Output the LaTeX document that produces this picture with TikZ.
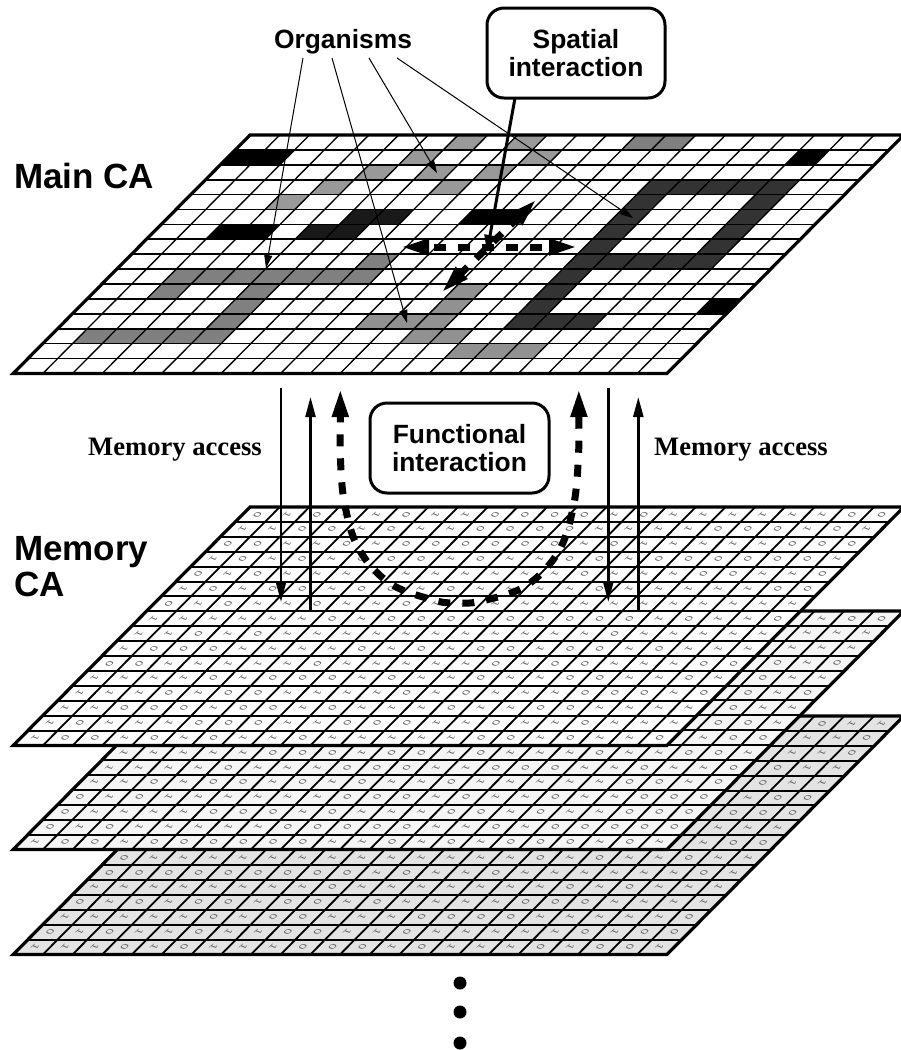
\documentclass[tikz,border=0pt]{standalone}
\usepackage{fontspec}
\setmainfont{Liberation Sans}
\newfontfamily\timesb{Liberation Serif}[BoldFont={Liberation Serif Bold}]
\usetikzlibrary{arrows.meta}
\def\CW{29.72}\def\SH{14.8}\def\RH{14.9}
\tikzset{
  gridh/.style={line width=1.7pt},
  gridd/.style={line width=1.35pt},
  memh/.style={line width=2pt},
  memd/.style={line width=1.8pt},
  border/.style={line width=3.2pt,line join=miter},
  bigtext/.style={font=\fontsize{35}{38}\selectfont\bfseries,anchor=base west,inner sep=0,align=left},
  boxtext/.style={font=\fontsize{26.4}{28.5}\selectfont\bfseries,align=center,draw,line width=3pt,rounded corners=17pt,inner sep=0},
  orgtext/.style={font=\fontsize{26.4}{30}\selectfont\bfseries,inner sep=0},
  memtext/.style={font=\fontsize{26.6}{30}\selectfont\timesb\bfseries,inner sep=0},
  orgarrow/.style={line width=1pt,-{Triangle[length=13pt,width=8pt]}},
  memarrow/.style={line width=2.4pt,-{Triangle[length=20pt,width=10pt]}},
  spatarrow/.style={line width=3pt,-{Triangle[length=17pt,width=11pt]}},
  dasharrow/.style={line width=7pt,dash pattern=on 12pt off 12pt,{Triangle[length=29pt,width=15pt]}-{Triangle[length=29pt,width=15pt]}},
  bit/.style={inner sep=0,text=black!60,font=\fontsize{10}{11}\selectfont,cm={-1.0,-0.85,0.75,-0.3,(0,0)}},
  dot/.style={circle,fill=black,inner sep=0,minimum size=13pt},
}
% layer: x-origin y-origin fill
\newcommand\gridlayer[3]{%
  \fill[#3] (#1,#2) -- ({#1+22*\CW},#2) -- ({#1+22*\CW-16*\SH},{#2+16*\RH}) -- ({#1-16*\SH},{#2+16*\RH}) -- cycle;
  \foreach \k in {1,...,15} \draw[memh] ({#1-\k*\SH},{#2+\k*\RH}) -- ({#1+22*\CW-\k*\SH},{#2+\k*\RH});
  \foreach \k in {1,...,21} \draw[memd] ({#1+\k*\CW},#2) -- ({#1+\k*\CW-16*\SH},{#2+16*\RH});
  \draw[border] (#1,#2) -- ({#1+22*\CW},#2) -- ({#1+22*\CW-16*\SH},{#2+16*\RH}) -- ({#1-16*\SH},{#2+16*\RH}) -- cycle;
}
% bits: y-origin, first row, first column, rows
\newcommand\bits[4]{%
  \foreach \rowlist [count=\jj from #2] in {#4} {
    \foreach \d [count=\ii from #3] in \rowlist {
      \node[bit] at ({250+\CW*(\ii+.5)-\SH*(\jj+.5)},{#1+\RH*(\jj+.5)}) {\d};
    }
  }
}
\newcommand\cells[2]{%
  \foreach \r/\c in {#2} {
    \fill[#1] ({250+\CW*\c-\SH*\r},{135+\RH*\r}) -- ({250+\CW*(\c+1)-\SH*\r},{135+\RH*\r}) -- ({250+\CW*(\c+1)-\SH*(\r+1)},{135+\RH*(\r+1)}) -- ({250+\CW*\c-\SH*(\r+1)},{135+\RH*(\r+1)}) -- cycle;
  }
}
\begin{document}
\begin{tikzpicture}[x=1pt,y=-1pt]
\useasboundingbox (0,0) rectangle (901,1050);
\fill[white] (0,0) rectangle (901,1050);
% memory layers, back to front
\begin{scope}
\gridlayer{250}{716}{black!11}
\bits{716}{0}{19}{{0,1,1},{1,1,0},{1,1,0},{0,1,1},{0,1,1},{1,0,0},{0,0,0},{1,1,1},{1,0,0}}
\bits{716}{9}{0}{
{0,1,1,1,1,1,1,1,1,1,1,1,1,1,0,1,0,1,1,0,1,1},
{0,0,0,0,0,0,0,0,0,1,0,1,1,0,1,1,1,1,1,1,0,1},
{1,1,1,1,1,1,1,1,0,1,1,1,1,1,1,1,0,1,0,1,1,1},
{0,1,0,1,0,0,1,0,0,1,0,1,1,1,1,0,0,0,1,1,1,1},
{1,1,1,1,1,0,1,0,0,1,1,1,0,0,0,0,1,1,1,1,1,0},
{0,1,0,1,1,0,1,1,0,0,1,1,0,1,1,1,1,1,0,1,0,0},
{1,1,1,0,1,0,1,1,1,0,0,0,1,0,1,1,1,0,1,0,0,1}}
\gridlayer{250}{611}{black!4}
\bits{611}{0}{19}{{1,0,0},{1,1,1},{1,1,1},{0,1,0},{0,1,1},{0,1,0},{0,1,1},{0,0,1},{1,0,0}}
\bits{611}{9}{0}{
{1,1,1,1,1,0,0,0,1,0,0,1,0,1,1,1,0,1,1,0,0,1},
{1,1,1,1,0,1,1,1,0,0,0,1,1,0,0,0,1,1,0,1,1,0},
{1,1,0,1,0,0,1,0,1,0,1,1,0,1,1,1,1,1,0,0,1,0},
{0,1,0,1,1,1,1,1,1,0,0,0,1,0,1,1,0,1,1,0,0,0},
{0,1,1,1,1,0,0,0,1,0,1,1,1,0,0,1,0,1,1,0,0,0},
{0,1,0,1,1,1,1,1,0,0,0,0,0,1,1,0,1,0,0,0,0,0},
{1,0,0,1,0,0,0,0,0,0,1,1,0,1,0,1,0,0,0,1,0,1}}
\gridlayer{250}{507}{white}
\bits{507}{0}{0}{
{0,1,0,1,1,0,1,1,0,0,0,0,1,0,1,1,1,1,1,1,0,0},
{1,1,0,0,1,0,1,1,0,0,0,0,1,1,1,1,0,0,0,1,0,1},
{0,0,1,1,0,1,0,0,0,0,0,0,1,0,1,1,1,1,1,0,0,0},
{1,0,1,0,1,0,0,0,1,0,1,1,0,0,1,0,0,0,0,0,0,1},
{0,1,0,1,1,1,1,1,1,1,1,1,1,0,1,1,1,0,0,1,1,0},
{1,0,1,0,0,1,0,0,1,0,1,1,1,1,0,1,1,1,1,1,0,0},
{0,1,0,1,1,0,1,1,0,1,1,1,1,1,1,1,1,1,1,1,1,1},
{1,1,1,1,1,1,0,1,0,0,0,0,0,0,0,0,0,1,0,1,1,0},
{1,1,0,1,0,1,1,1,1,1,1,1,1,1,1,1,0,1,1,1,1,1},
{1,0,0,0,1,1,1,1,0,1,0,1,0,0,1,0,0,1,0,1,1,1},
{0,0,1,1,1,1,1,0,1,1,1,1,1,0,1,0,0,1,1,1,0,0},
{1,1,1,1,0,1,0,0,0,1,0,1,1,0,1,1,0,0,1,1,0,1},
{1,1,1,0,1,0,0,1,1,1,1,0,1,0,1,1,1,0,0,0,1,0},
{1,1,0,0,0,1,0,0,1,0,1,1,1,0,1,1,0,0,1,1,1,1},
{1,0,1,1,1,0,0,0,1,1,0,0,0,1,1,0,1,1,0,1,1,1},
{1,0,0,1,0,1,0,1,1,0,1,1,1,1,1,0,0,1,0,1,1,0}}
\end{scope}
% main CA
\cells{black!40}{0/7,0/9,1/6,1/10,2/5,2/7,2/9,3/4,3/8,4/3}
\cells{black!50}{8/8,9/2,9/3,9/4,9/5,9/6,9/7,9/8,10/2,10/5,11/5,12/5,13/1,13/2,13/3,13/4,13/5,0/13,0/14}
\cells{black!43}{10/12,11/12,12/10,12/11,12/12,13/12,13/13,14/14,14/15,14/16}
\cells{black!80}{3/15,3/16,3/17,3/18,3/19,4/15,4/19,5/15,5/19,6/15,6/19,7/15,7/19,8/15,8/16,8/17,8/18,8/19,9/15,10/15,11/15,12/15,12/16,12/17}
\cells{black!90}{5/6,5/7,6/5,6/6}
\cells{black}{1/0,1/1,6/2,6/3,5/10,5/11,1/19,11/21}
\foreach \k in {1,...,15} \draw[gridh] ({250-\k*\SH},{135+\k*\RH}) -- ({250+22*\CW-\k*\SH},{135+\k*\RH});
\foreach \k in {1,...,21} \draw[gridd] ({250+\k*\CW},135) -- ({250+\k*\CW-16*\SH},{135+16*\RH});
\draw[border] (250,135) -- ({250+22*\CW},135) -- ({250+22*\CW-16*\SH},{135+16*\RH}) -- ({250-16*\SH},{135+16*\RH}) -- cycle;
% labels
\node[bigtext] (mainlab) at (14,188) {Main CA};
\node[bigtext] (memlab) at (14,560) {Memory};
\node[bigtext] (calab) at (14,596) {CA};
\node[orgtext] (org) at (343,42) {Organisms};
\node[boxtext,minimum width=178pt,minimum height=90pt] (spatial) at (576,53) {Spatial\\interaction};
\node[boxtext,minimum width=179pt,minimum height=90pt] (func) at (459.5,448) {Functional\\interaction};
\node[memtext] (mall) at (175,450) {Memory access};
\node[memtext] (malr) at (741,450) {Memory access};
% organism arrows
\coordinate (a1) at (303,58); \coordinate (b1) at (266,268);
\coordinate (a2) at (332,58); \coordinate (b2) at (407,323);
\coordinate (a3) at (369,58); \coordinate (b3) at (437,173);
\coordinate (a4) at (397,58); \coordinate (b4) at (633,218);
\draw[orgarrow] (a1) -- (b1);
\draw[orgarrow] (a2) -- (b2);
\draw[orgarrow] (a3) -- (b3);
\draw[orgarrow] (a4) -- (b4);
% spatial
\coordinate (s0) at (515,98); \coordinate (s1) at (487,252);
\draw[spatarrow] (s0) -- (s1);
\coordinate (h0) at (400,247); \coordinate (h1) at (578,247);
\draw[dasharrow,dash phase=17pt] (h0) -- (h1);
\coordinate (d0) at (441,293); \coordinate (d1) at (537,199);
\draw[dasharrow,dash phase=2pt] (d0) -- (d1);
% memory access arrows
\coordinate (m1a) at (281,388); \coordinate (m1b) at (281,602);
\coordinate (m2a) at (310.5,611); \coordinate (m2b) at (310.5,397);
\coordinate (m3a) at (608.3,388); \coordinate (m3b) at (608.3,602);
\coordinate (m4a) at (638.3,611); \coordinate (m4b) at (638.3,397);
\draw[memarrow] (m1a) -- (m1b);
\draw[memarrow] (m2a) -- (m2b);
\draw[memarrow] (m3a) -- (m3b);
\draw[memarrow] (m4a) -- (m4b);
% functional
\draw[dasharrow,dash phase=17pt] plot[smooth,tension=0.6] coordinates {(340.3,388) (340.3,418) (340.3,455) (344.3,502) (358.3,548) (389.3,583) (433.3,600) (456.7,603) (481.7,601) (525.7,586) (558.3,552) (573.3,507) (578.3,460) (578.8,418) (578.8,388)};
% dots
\node[dot] (p1) at (460,983) {};
\node[dot] (p2) at (460,1012) {};
\node[dot] (p3) at (460,1043) {};
\end{tikzpicture}
\end{document}
